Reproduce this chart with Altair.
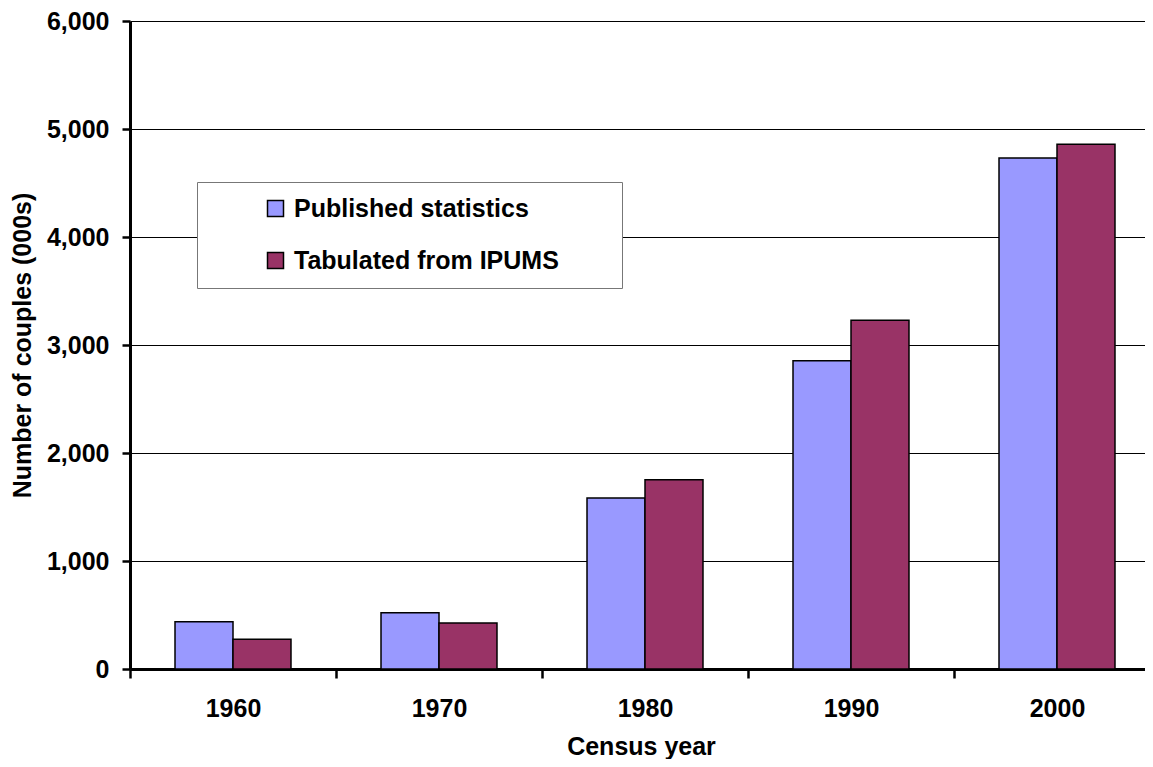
import altair as alt
import pandas as pd

years = ["1960", "1970", "1980", "1990", "2000"]
series = ["Published statistics", "Tabulated from IPUMS"]
published = [437, 520, 1584, 2854, 4732]
tabulated = [276, 427, 1753, 3230, 4858]
y_ticks = [0, 1000, 2000, 3000, 4000, 5000, 6000]
colors = ["#9999FF", "#993366"]

rows = []
for i, yr in enumerate(years):
    rows.append({"year": yr, "series": series[0], "value": published[i]})
    rows.append({"year": yr, "series": series[1], "value": tabulated[i]})
df = pd.DataFrame(rows)

FONT = "Arial, Liberation Sans"
PAD = "\u00a0" * 7 + "\u200b"

chart = alt.Chart(df).mark_bar(stroke="black", strokeWidth=1.5).encode(
    x=alt.X("year:N", sort=years,
            scale=alt.Scale(paddingInner=0, paddingOuter=0, range=[0, 1030]),
            axis=alt.Axis(title="Census year", labelAngle=0, tickBand="extent",
                          domainColor="black", domainWidth=3, tickColor="black",
                          tickSize=9, tickWidth=2.5, labelPadding=18,
                          titlePadding=13, titleX=511, grid=False)),
    xOffset=alt.XOffset("series:N", sort=series,
                        scale=alt.Scale(paddingInner=0, paddingOuter=0.776)),
    y=alt.Y("value:Q", scale=alt.Scale(domain=[0, 6000], nice=False),
            axis=alt.Axis(title="Number of couples (000s)", values=y_ticks, format=",.0f",
                          domainColor="black", domainWidth=3, tickColor="black",
                          tickSize=8, tickWidth=2.5, labelPadding=13, titlePadding=11,
                          grid=True, gridColor="black", gridWidth=1, gridOpacity=1)),
    color=alt.Color("series:N", sort=series,
                    scale=alt.Scale(domain=series, range=colors),
                    legend=alt.Legend(title=None, orient="none", legendX=67, legendY=161,
                                      fillColor="white", strokeColor="#777777",
                                      padding=14, rowPadding=26, symbolOffset=52,
                                      symbolType="square", symbolSize=256,
                                      symbolStrokeColor="black", symbolStrokeWidth=1.5,
                                      symbolOpacity=1, labelOffset=6, labelLimit=600,
                                      labelFontSize=25, labelFont=FONT,
                                      labelFontWeight="bold", labelColor="black",
                                      labelExpr="datum.label + '" + PAD + "'")),
).properties(
    width=1015, height=648,
    autosize=alt.AutoSizeParams(type="none"),
    padding={"left": 122, "top": 13, "right": 0, "bottom": 90},
).configure_view(strokeWidth=0).configure_axis(
    labelFont=FONT, titleFont=FONT, labelFontSize=25, titleFontSize=25,
    labelFontWeight="bold", titleFontWeight="bold", labelColor="black", titleColor="black",
)

chart.save("out.html", embed_options={"renderer": "svg", "actions": False})
